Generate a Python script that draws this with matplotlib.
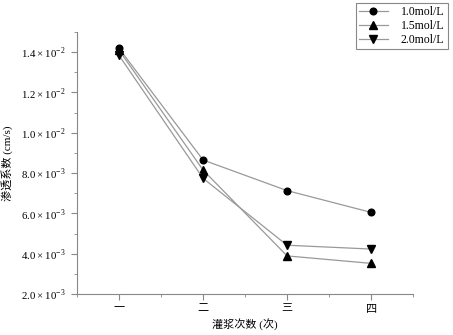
import matplotlib
matplotlib.use('Agg')
import matplotlib.pyplot as plt
from matplotlib.ticker import FuncFormatter, MultipleLocator

plt.rcParams['font.family'] = ['Liberation Serif', 'Noto Sans CJK SC']
plt.rcParams['mathtext.fontset'] = 'custom'
plt.rcParams['mathtext.rm'] = 'Liberation Serif'

x = [1, 2, 3, 4]
xlabels = ['一', '二', '三', '四']
y10 = [0.01419, 0.00865, 0.00713, 0.00605]
y15 = [0.01410, 0.00815, 0.00389, 0.00352]
y20 = [0.01384, 0.00774, 0.00442, 0.00423]

fig = plt.figure(figsize=(4.53, 3.35), dpi=100)
ax = fig.add_axes([0.170, 0.1224, 0.742, 0.782])

ax.plot(x, y10, '-o', color='#999999', lw=0.9, mfc='black', mec='black', ms=4.8, label='1.0mol/L')
ax.plot(x, y15, '-^', color='#999999', lw=0.9, mfc='black', mec='black', ms=5.2, label='1.5mol/L')
ax.plot(x, y20, '-v', color='#999999', lw=0.9, mfc='black', mec='black', ms=5.2, label='2.0mol/L')

ax.set_xlim(0.5, 4.5)
ax.set_ylim(0.002, 0.015)
ax.set_xticks(x)
ax.set_xticklabels(xlabels, fontsize=8)
ax.xaxis.set_minor_locator(MultipleLocator(0.5))
ax.yaxis.set_major_locator(MultipleLocator(0.002))
ax.yaxis.set_minor_locator(MultipleLocator(0.001))

def fmt(v, pos):
    e = -2 if v >= 0.0099 else -3
    m = v / 10 ** e
    return r'$%.1f\times10^{%d}$' % (m, e)

ax.yaxis.set_major_formatter(FuncFormatter(fmt))
ax.tick_params(axis='y', labelsize=7.8, pad=4)

for s in ['top', 'right']:
    ax.spines[s].set_visible(False)
for s in ['left', 'bottom']:
    ax.spines[s].set_color('#888888')
ax.tick_params(which='both', color='#888888')
ax.tick_params(which='major', length=4)
ax.tick_params(which='minor', length=2)

ax.set_xlabel('灌浆次数 (次)', fontsize=8, labelpad=3)
ax.set_ylabel('渗透系数 (cm/s)', fontsize=8)
ax.yaxis.set_label_coords(-0.19, 0.5)

leg = ax.legend(loc='upper right', bbox_to_anchor=(0.988, 0.992), bbox_transform=fig.transFigure,
                borderaxespad=0, fontsize=8.5, fancybox=False, edgecolor='#888888', framealpha=1,
                handlelength=2.4, borderpad=0.3, labelspacing=0.15, handletextpad=1.1)
leg.get_frame().set_linewidth(0.8)

fig.savefig('out.png', dpi=100)
